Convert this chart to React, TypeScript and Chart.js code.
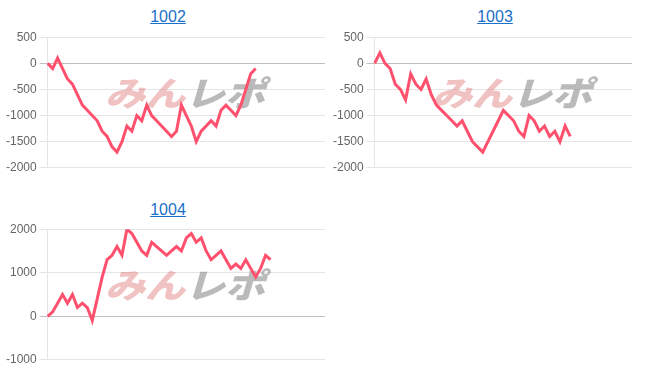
import React, { useEffect, useRef } from "react";
import { Chart, registerables } from "chart.js";

Chart.register(...registerables);

const titles = ["1002", "1003", "1004"];

const series1002 = [0, -100, 100, -100, -300, -400, -600, -800, -900, -1000, -1100, -1300, -1400, -1600, -1700, -1500, -1200, -1300, -1000, -1100, -800, -1000, -1100, -1200, -1300, -1400, -1300, -800, -1000, -1200, -1500, -1300, -1200, -1100, -1200, -900, -800, -900, -1000, -800, -500, -200, -100];
const series1003 = [0, 200, 0, -100, -400, -500, -700, -200, -400, -500, -300, -600, -800, -900, -1000, -1100, -1200, -1100, -1300, -1500, -1600, -1700, -1500, -1300, -1100, -900, -1000, -1100, -1300, -1400, -1000, -1100, -1300, -1200, -1400, -1300, -1500, -1200, -1400];
const series1004 = [0, 100, 300, 500, 300, 500, 200, 300, 200, -100, 400, 900, 1300, 1400, 1600, 1400, 2000, 1900, 1700, 1500, 1400, 1700, 1600, 1500, 1400, 1500, 1600, 1500, 1800, 1900, 1700, 1800, 1500, 1300, 1400, 1500, 1300, 1100, 1200, 1100, 1300, 1100, 900, 1100, 1400, 1300];

const categories57 = Array.from({ length: 57 }, (_, i) => String(i + 1));
const categories51 = Array.from({ length: 51 }, (_, i) => String(i + 1));

const yTicks1002 = { min: -2000, max: 500, step: 500 };
const yTicks1003 = { min: -2000, max: 500, step: 500 };
const yTicks1004 = { min: -1000, max: 2000, step: 1000 };

const watermarkPlugin = {
  id: "watermark",
  beforeDatasetsDraw(chart: any) {
    const ctx = chart.ctx;
    ctx.save();
    ctx.font = "900 italic 34px 'Noto Sans CJK JP', sans-serif";
    ctx.textBaseline = "middle";
    const a = "みん";
    const b = "レポ";
    const wa = ctx.measureText(a).width;
    const wb = ctx.measureText(b).width;
    const total = wa + wb;
    const target = 160;
    const sx = target / total;
    const cx = 182;
    const cy = 66;
    ctx.translate(cx - target / 2, cy);
    ctx.scale(sx, 1);
    ctx.fillStyle = "rgba(222, 120, 120, 0.45)";
    ctx.fillText(a, 0, 0);
    ctx.fillStyle = "rgba(140, 140, 140, 0.6)";
    ctx.fillText(b, wa, 0);
    ctx.restore();
  },
};

function MiniChart(props: {
  title: string;
  labels: string[];
  data: number[];
  yr: { min: number; max: number; step: number };
  left: number;
  top: number;
  width: number;
  height: number;
  titleCenter: number;
  titleTop: number;
}) {
  const ref = useRef<HTMLCanvasElement | null>(null);
  useEffect(() => {
    if (!ref.current) return;
    const chart = new Chart(ref.current, {
      type: "line",
      data: {
        labels: props.labels,
        datasets: [
          {
            label: props.title,
            data: props.data,
            borderColor: "rgb(255, 80, 110)",
            backgroundColor: "rgb(255, 80, 110)",
            borderWidth: 3,
            pointRadius: 0,
            tension: 0,
            fill: false,
          },
        ],
      },
      options: {
        responsive: false,
        animation: false,
        plugins: { legend: { display: false }, tooltip: { enabled: false } },
        layout: { padding: 0 },
        scales: {
          x: { display: false },
          y: {
            min: props.yr.min,
            max: props.yr.max,
            ticks: {
              stepSize: props.yr.step,
              color: "#666",
              font: { size: 12, family: "'Liberation Sans', Arial, sans-serif" },
              padding: 3,
              callback: (v: any) => String(v),
            },
            grid: {
              color: (c: any) => (c.tick && c.tick.value === 0 ? "rgba(0,0,0,0.25)" : "rgba(0,0,0,0.1)"),
              tickLength: 8,
            },
            border: { display: true, color: "rgba(0,0,0,0.1)" },
          },
        },
      },
      plugins: [watermarkPlugin],
    });
    return () => chart.destroy();
  }, []);
  return (
    <>
      <div
        style={{
          position: "absolute",
          left: props.titleCenter - 100,
          top: props.titleTop,
          width: 200,
          textAlign: "center",
          font: "16px 'Liberation Sans', Arial, sans-serif",
        }}
      >
        <a href="#" style={{ color: "#1a6fc9", textDecoration: "underline" }}>
          {props.title}
        </a>
      </div>
      <canvas
        ref={ref}
        width={props.width}
        height={props.height}
        style={{ position: "absolute", left: props.left, top: props.top, width: props.width, height: props.height }}
      />
    </>
  );
}

export default function App() {
  return (
    <div style={{ position: "absolute", left: 0, top: 0, width: 652, height: 382, background: "#fff" }}>
      <MiniChart title={titles[0]} labels={categories57} data={series1002} yr={yTicks1002} left={3} top={27} width={322} height={151} titleCenter={168} titleTop={8} />
      <MiniChart title={titles[1]} labels={categories51} data={series1003} yr={yTicks1003} left={330} top={27} width={302} height={151} titleCenter={495} titleTop={8} />
      <MiniChart title={titles[2]} labels={categories57} data={series1004} yr={yTicks1004} left={3} top={219} width={322} height={151} titleCenter={168} titleTop={201} />
    </div>
  );
}
